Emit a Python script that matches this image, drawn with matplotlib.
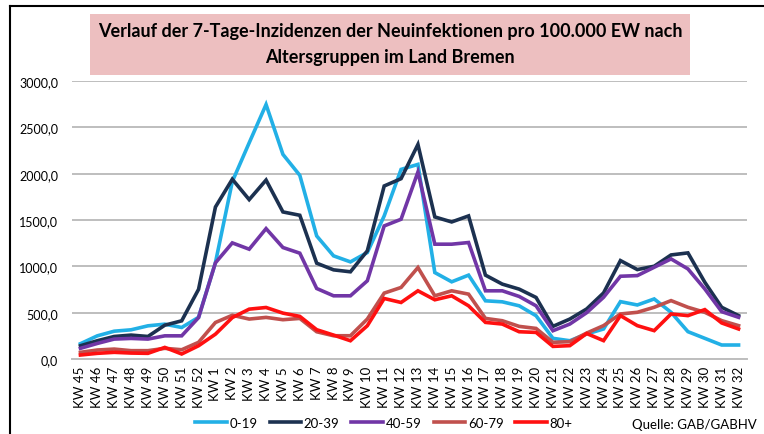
import matplotlib.pyplot as plt
from matplotlib.patches import Rectangle
from matplotlib.lines import Line2D
from matplotlib.ticker import FuncFormatter

plt.rcParams['font.family'] = ['Lato', 'DejaVu Sans']

weeks = ["KW %d" % w for w in range(45, 53)] + ["KW %d" % w for w in range(1, 33)]

age_0_19 = [165, 250, 300, 315, 358, 376, 340, 450, 1040, 1915, 2333, 2746, 2208, 1982,
            1328, 1113, 1048, 1149, 1544, 2046, 2100, 933, 833, 905, 628, 617, 574, 467,
            223, 197, 270, 324, 619, 583, 648, 504, 295, 223, 151, 151]
age_20_39 = [143, 197, 243, 258, 243, 365, 412, 752, 1640, 1940, 1720, 1931, 1587, 1551,
             1034, 962, 941, 1167, 1867, 1946, 2315, 1533, 1479, 1544, 905, 808, 754, 664,
             352, 431, 540, 713, 1062, 965, 1001, 1123, 1145, 828, 558, 468]
age_40_59 = [115, 168, 215, 222, 215, 250, 250, 447, 1038, 1253, 1185, 1407, 1203, 1142,
             761, 682, 682, 844, 1436, 1508, 2018, 1239, 1239, 1257, 736, 736, 675, 574,
             305, 377, 500, 666, 893, 900, 990, 1080, 972, 756, 511, 450]
age_60_79 = [72, 97, 107, 90, 90, 115, 100, 180, 394, 472, 431, 449, 424, 438,
             294, 251, 251, 431, 711, 772, 987, 682, 736, 700, 438, 413, 352, 330,
             180, 187, 280, 360, 486, 504, 558, 630, 558, 504, 414, 360]
age_80_plus = [43, 61, 72, 64, 61, 125, 54, 143, 268, 447, 538, 556, 495, 460,
               316, 258, 197, 359, 653, 610, 736, 639, 682, 574, 395, 377, 294, 287,
               136, 144, 275, 198, 468, 360, 306, 486, 468, 533, 389, 324]

series = [("0-19", age_0_19, "#22B0E6"),
          ("20-39", age_20_39, "#1C3150"),
          ("40-59", age_40_59, "#7136A6"),
          ("60-79", age_60_79, "#C0504D"),
          ("80+", age_80_plus, "#FF1010")]

fig = plt.figure(figsize=(7.64, 4.35), dpi=100)

# frame lines (top + left) like the screenshot
fig.add_artist(Line2D([10/764, 10/764], [0, 1 - 7/435], color="black", lw=1.5))
fig.add_artist(Line2D([10/764, 1], [1 - 7/435, 1 - 7/435], color="black", lw=1.5))

ax = fig.add_axes([72/764, 75/435, 675/764, 278/435])
x = list(range(len(weeks)))
for name, vals, col in series:
    ax.plot(x, vals, color=col, lw=2.6, label=name, solid_joinstyle="miter")

ax.set_xlim(-0.5, len(weeks) - 0.5)
ax.set_ylim(0, 3000)
ax.set_yticks([0, 500, 1000, 1500, 2000, 2500, 3000])
ax.yaxis.set_major_formatter(FuncFormatter(lambda v, p: ("%.1f" % v).replace(".", ",")))
ax.set_xticks(x)
ax.set_xticklabels(weeks, rotation=90, fontsize=9.5)
ax.tick_params(axis="y", labelsize=9, length=0, pad=10)
ax.tick_params(axis="x", length=0, pad=5)
ax.grid(axis="y", color="#BEBEBE", lw=1.4)
ax.set_axisbelow(True)
for s in ["top", "right", "left"]:
    ax.spines[s].set_visible(False)
ax.spines["bottom"].set_color("#BEBEBE")
ax.spines["bottom"].set_linewidth(1.4)

# title box
fig.add_artist(Rectangle((90/764, 1 - 76/435), 600/764, 61/435,
                         transform=fig.transFigure, facecolor="#EDBFC0", edgecolor="none"))
fig.text(390/764, 1 - 31/435, "Verlauf der 7-Tage-Inzidenzen der Neuinfektionen pro 100.000 EW nach",
         ha="center", va="center", fontsize=13, fontweight="bold")
fig.text(390/764, 1 - 58/435, "Altersgruppen im Land Bremen",
         ha="center", va="center", fontsize=13, fontweight="bold")

fig.legend(loc="center", bbox_to_anchor=(384/764, 1 - 424/435), ncol=5, frameon=False,
           fontsize=9.5, handlelength=2.4, handletextpad=0.2, columnspacing=0.9)
fig.text(757/764, 1 - 425/435, "Quelle: GAB/GABHV", ha="right", va="center", fontsize=9.5)

fig.savefig("out.png", dpi=100)
